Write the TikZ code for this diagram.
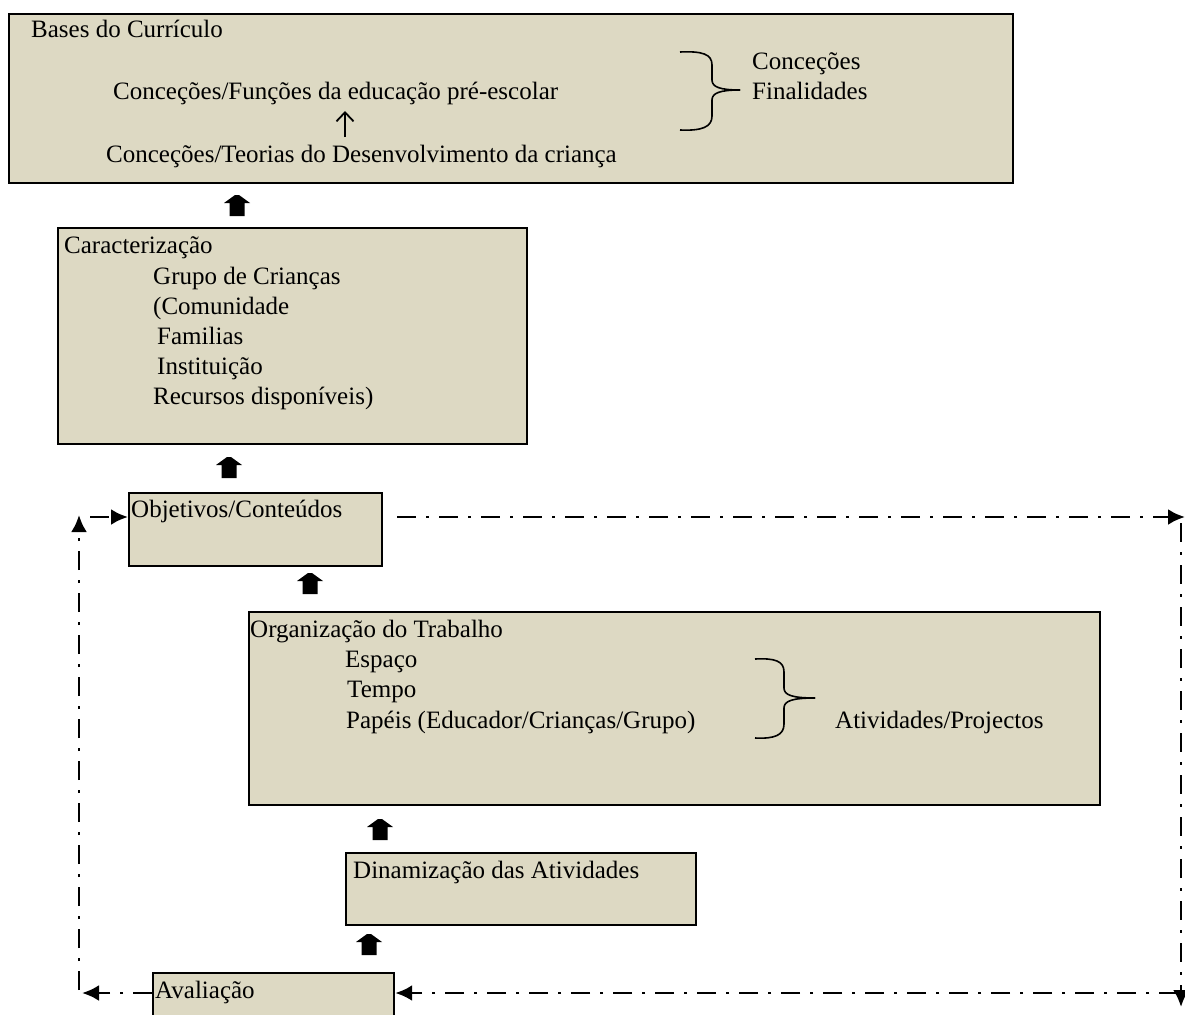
\documentclass[tikz,border=0pt]{standalone}
\usepackage{fontspec}
\setmainfont{Liberation Serif}
\usetikzlibrary{arrows.meta,calc}
\definecolor{tanfill}{HTML}{DDD9C3}
\tikzset{
  box/.style={draw=black, line width=2.2pt, fill=tanfill, inner sep=0pt, anchor=north west},
  txt/.style={anchor=base west, inner sep=0pt},
  loopline/.style={line width=2.9pt, dash pattern=on 19pt off 10pt on 3pt off 10pt,
    -{Latex[length=17pt,width=16pt]}},
  bracepath/.style={line width=1.6pt},
  smallarr/.style={line width=1.8pt, -{Straight Barb[length=9pt,width=17pt]}},
  uparr/.pic={\fill (-7.5,21) -- (-7.5,8) -- (-13,8) -- (-2,0) -- (2,0) -- (13,8) -- (7.5,8) -- (7.5,21) -- cycle;}
}
\begin{document}
\begin{tikzpicture}[x=1pt,y=-1pt,font=\fontsize{25}{30}\selectfont]
\useasboundingbox (0,0) rectangle (1185,1014);
\clip (0,0) rectangle (1185,1014);

% boxes
\node[box, minimum width=1004pt, minimum height=169pt] (bases) at (8,13) {};
\node[box, minimum width=469pt, minimum height=216pt] (carac) at (57,227) {};
\node[box, minimum width=253pt, minimum height=73pt] (obj) at (128,492) {};
\node[box, minimum width=851pt, minimum height=193pt] (org) at (248,611) {};
\node[box, minimum width=350pt, minimum height=72pt] (din) at (345,852) {};
\node[box, minimum width=241pt, minimum height=60pt] (aval) at (152,972) {};

% texts, box 1
\node[txt] (t1) at (31,38) {Bases do Currículo};
\node[txt] (t2) at (113,100) {Conceções/Funções da educação pré-escolar};
\node[txt] (t3) at (106,162) {Conceções/Teorias do Desenvolvimento da criança};
\node[txt] (t4) at (752,70) {Conceções};
\node[txt] (t5) at (752,100) {Finalidades};
\coordinate (sa1) at (345,137);
\coordinate (sa2) at (345,111);
\draw[smallarr] (sa1) -- (sa2);
\draw[bracepath] (680,52) .. controls (702,51) and (712,54) .. (712,65) -- (712,80)
  .. controls (712,87) and (720,90) .. (740,90);
\draw[bracepath] (680,130) .. controls (702,131) and (712,127) .. (712,116) -- (712,100)
  .. controls (712,93) and (720,90) .. (740,90);

% texts, box 2
\node[txt] (c1) at (64,253) {Caracterização};
\node[txt] (c2) at (153,284) {Grupo de Crianças};
\node[txt] (c3) at (153,314) {(Comunidade};
\node[txt] (c4) at (157,344) {Familias};
\node[txt] (c5) at (157,374) {Instituição};
\node[txt] (c6) at (153,404) {Recursos disponíveis)};

% box 3
\node[txt] (o1) at (131,517) {Objetivos/Conteúdos};

% box 4
\node[txt] (w1) at (250,637) {Organização do Trabalho};
\node[txt] (w2) at (345,667) {Espaço};
\node[txt] (w3) at (347,697) {Tempo};
\node[txt] (w4) at (346,728) {Papéis (Educador/Crianças/Grupo)};
\node[txt] (w5) at (835,728) {Atividades/Projectos};
\draw[bracepath] (755,659) .. controls (775,658) and (784,661) .. (784,672) -- (784,688)
  .. controls (784,695) and (792,698) .. (815,698);
\draw[bracepath] (755,738) .. controls (775,739) and (784,735) .. (784,724) -- (784,708)
  .. controls (784,701) and (792,698) .. (815,698);

% box 5, 6
\node[txt] (d1) at (353,878) {Dinamização das Atividades};
\node[txt] (a1) at (155,998) {Avaliação};

% block arrows
\pic at (237,195) {uparr};
\pic at (229,457) {uparr};
\pic at (310,573) {uparr};
\pic at (380,819) {uparr};
\pic at (369,934) {uparr};

% feedback loop
\coordinate (lt) at (79,517);
\coordinate (lb) at (79,993);
\coordinate (rt) at (1185,517);
\coordinate (rb) at (1181,993);
\draw[loopline] (lb -| aval.west) -- ($(lb)+(3,0)$);
\draw[loopline] ($(lb)+(0,-3)$) -- ($(lt)+(0,-2)$);
\draw[loopline] ($(lt)+(11,0)$) -- (lt -| obj.west);
\draw[loopline] ($(obj.east |- rt)+(14,0)$) -- (rt);
\draw[loopline] ($(rt)+(-4,6)$) -- ($(rb)+(0,14)$);
\draw[loopline] ($(rb)+(-3,0)$) -- (rb -| aval.east);
\end{tikzpicture}
\end{document}
